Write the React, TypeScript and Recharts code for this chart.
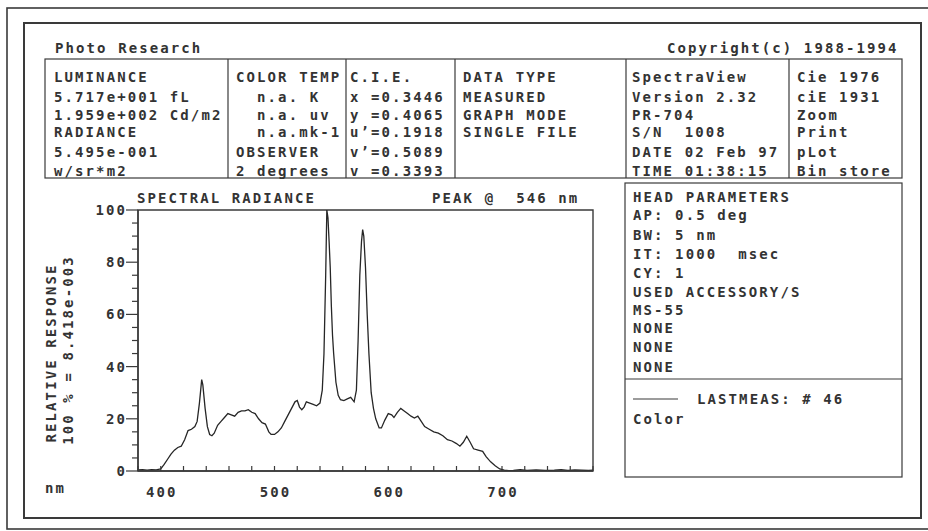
import React from 'react';
import { LineChart, Line, XAxis, YAxis, ReferenceArea } from 'recharts';

// ---- data ----
const wavelengths = [
  380, 384, 388, 392, 396, 400, 403, 406, 409, 412, 415, 418, 421, 424, 427, 430, 432, 434, 436, 437,
  439, 441, 443, 445, 447, 450, 453, 456, 459, 462, 465, 468, 471, 474, 477, 480, 483, 486, 489, 492,
  495, 497, 500, 503, 506, 509, 512, 515, 518, 520, 522, 524, 526, 528, 531, 534, 537, 540, 542, 543.5,
  545, 546, 547, 548, 549, 550, 551, 552, 554, 556, 558, 561, 564, 567, 570, 572, 573.5, 575, 576.5, 577.5,
  578.5, 580, 581.5, 583, 585, 587, 589, 592, 594, 597, 600, 603, 605, 608, 611, 614, 617, 620, 623, 626,
  629, 632, 636, 640, 644, 648, 652, 656, 660, 663, 666, 669, 672, 675, 679, 683, 686, 690, 694, 698,
  702, 706, 710, 716, 722, 730, 738, 746, 752, 758, 764, 770, 776, 780,
];
const response = [
  0.4, 0.5, 0.3, 0.5, 0.4, 0.8, 2.5, 4.5, 6.5, 8, 9, 9.5, 12, 15.5, 16, 17, 19, 26, 35, 33,
  24, 17, 14, 13.5, 14.5, 17.5, 19, 20.5, 22, 21.5, 21, 22.5, 23, 23, 23.5, 22.5, 22, 20, 18.5, 18,
  15, 14, 14, 15, 16.5, 19, 21.5, 24, 26.5, 27, 24.5, 23.5, 24.5, 26.5, 26, 25.5, 25, 26, 31, 45,
  75, 100, 97, 88, 78, 63, 52, 45, 34, 29, 27.3, 27, 27.6, 28.2, 26.5, 31, 50, 75, 88, 92.5,
  90, 78, 60, 45, 30, 24, 20, 16.5, 16.5, 19.5, 22, 21.5, 20.5, 22.5, 24, 23, 22, 21, 20.3, 21,
  19, 17, 16, 15, 14.5, 13.5, 12, 11.5, 10.5, 9.5, 11, 13.3, 11, 8.5, 8, 7.5, 5.5, 3.5, 2, 0.8,
  0.3, 0.1, 0.2, 0.5, 0.2, 0.4, 0.2, 0.3, 0.5, 0.2, 0.4, 0.3, 0.2, 0.3,
];
const xDomain = [380, 780];
const yDomain = [0, 100];
const xTicks = [380, 400, 420, 440, 460, 480, 500, 520, 540, 560, 580, 600, 620, 640, 660, 680, 700, 720, 740, 760, 780];
const xLabels = [400, 500, 600, 700];
const yTicks = [0, 5, 10, 15, 20, 25, 30, 35, 40, 45, 50, 55, 60, 65, 70, 75, 80, 85, 90, 95, 100];
const yLabels = [0, 20, 40, 60, 80, 100];

const headerLeft = 'Photo Research';
const headerRight = 'Copyright(c) 1988-1994';
const colLuminance = ['LUMINANCE', '5.717e+001 fL', '1.959e+002 Cd/m2', 'RADIANCE', '5.495e-001', 'w/sr*m2'];
const colColorTemp = ['COLOR TEMP', '  n.a. K', '  n.a. uv', '  n.a.mk-1', 'OBSERVER', '2 degrees'];
const colCie = ['C.I.E.', 'x =0.3446', 'y =0.4065', 'u’=0.1918', 'v’=0.5089', 'v =0.3393'];
const colDataType = ['DATA TYPE', 'MEASURED', 'GRAPH MODE', 'SINGLE FILE'];
const colSpectra = ['SpectraView', 'Version 2.32', 'PR-704', 'S/N  1008', 'DATE 02 Feb 97', 'TIME 01:38:15'];
const colMenu = ['Cie 1976', 'ciE 1931', 'Zoom', 'Print', 'pLot', 'Bin store'];
const chartTitle = 'SPECTRAL RADIANCE';
const peakText = 'PEAK @  546 nm';
const yTitle1 = 'RELATIVE RESPONSE';
const yTitle2 = '100 % = 8.418e-003';
const xUnit = 'nm';
const headParams = ['HEAD PARAMETERS', 'AP: 0.5 deg', 'BW: 5 nm', 'IT: 1000  msec', 'CY: 1', 'USED ACCESSORY/S', 'MS-55', 'NONE', 'NONE', 'NONE'];
const legendText = 'LASTMEAS: # 46';
const legendSub = 'Color';

const data = wavelengths.map((nm, i) => ({ nm, value: response[i] }));

// ---- styles ----
const FONT = '"DejaVu Sans Mono", "Liberation Mono", monospace';
const FS = 14;
const LS = 2.1;
const INK = '#333';
const LINE = '#3a3a3a';

const T = ({ x, y, children, anchor = 'start', transform }: any) => (
  <text
    x={x}
    y={y}
    dy={5}
    textAnchor={anchor}
    transform={transform}
    fontFamily={FONT}
    fontSize={FS}
    fontWeight="bold"
    letterSpacing={LS}
    fill={INK}
    style={{ whiteSpace: 'pre' }}
  >
    {children}
  </text>
);

const rowsY = [77, 97, 115, 132, 152, 171];
const headRowsY = [197, 215, 235, 254, 273, 292, 310, 328, 347, 367];

const YTick = (props: any) => {
  const { x, y, payload } = props;
  const v = payload.value;
  const major = yLabels.includes(v);
  return (
    <g>
      <line x1={x - (major ? 12 : 6)} x2={x} y1={y} y2={y} stroke={LINE} strokeWidth={1.2} />
      {major && <T x={x - 13 + LS} y={y} anchor="end">{String(v)}</T>}
    </g>
  );
};

const XTick = (props: any) => {
  const { x, y, payload } = props;
  const v = payload.value;
  const major = xLabels.includes(v);
  return (
    <g>
      <line x1={x} x2={x} y1={y - 5} y2={y} stroke={LINE} strokeWidth={1.2} />
      {major && <T x={x + LS / 2} y={y + 21} anchor="middle">{String(v)}</T>}
    </g>
  );
};

const Decorations = () => (
  <svg width={928} height={531} style={{ position: 'absolute', left: 0, top: 0 }}>
    <rect x={0} y={0} width={928} height={531} fill="#fff" />
    {/* frames */}
    <rect x={7} y={8} width={930} height={521} fill="none" stroke={LINE} strokeWidth={1.6} />
    <rect x={24} y={23} width={897} height={495} fill="none" stroke={LINE} strokeWidth={2} />
    {/* header */}
    <T x={55} y={48}>{headerLeft}</T>
    <T x={667} y={48}>{headerRight}</T>
    {/* table */}
    <rect x={45} y={59} width={857} height={119} fill="none" stroke={LINE} strokeWidth={1.2} />
    {[228, 346, 455, 626, 789].map((cx) => (
      <line key={cx} x1={cx} x2={cx} y1={59} y2={178} stroke={LINE} strokeWidth={1.2} />
    ))}
    {colLuminance.map((s, i) => <T key={'a' + i} x={54} y={rowsY[i]}>{s}</T>)}
    {colColorTemp.map((s, i) => <T key={'b' + i} x={236} y={rowsY[i]}>{s}</T>)}
    {colCie.map((s, i) => <T key={'c' + i} x={350} y={rowsY[i]}>{s}</T>)}
    {colDataType.map((s, i) => <T key={'d' + i} x={463} y={rowsY[i]}>{s}</T>)}
    {colSpectra.map((s, i) => <T key={'e' + i} x={632} y={rowsY[i]}>{s}</T>)}
    {colMenu.map((s, i) => <T key={'f' + i} x={797} y={rowsY[i]}>{s}</T>)}
    {/* chart texts */}
    <T x={137} y={198}>{chartTitle}</T>
    <T x={432} y={198}>{peakText}</T>
    <T x={51} y={353} anchor="middle" transform="rotate(-90 51 353)">{yTitle1}</T>
    <T x={68} y={350} anchor="middle" transform="rotate(-90 68 350)">{yTitle2}</T>
    <T x={45} y={488}>{xUnit}</T>
    {/* right panel */}
    <rect x={625} y={183} width={277} height={294} fill="none" stroke={LINE} strokeWidth={1.2} />
    <line x1={625} x2={902} y1={379} y2={379} stroke={LINE} strokeWidth={1.2} />
    {headParams.map((s, i) => <T key={'h' + i} x={633} y={headRowsY[i]}>{s}</T>)}
    <line x1={633} x2={678} y1={399} y2={399} stroke={LINE} strokeWidth={1.2} />
    <T x={697} y={399}>{legendText}</T>
    <T x={633} y={419}>{legendSub}</T>
  </svg>
);

export default function App() {
  return (
    <div style={{ position: 'absolute', left: 0, top: 0, width: 928, height: 531, background: '#fff' }}>
      <Decorations />
      <div style={{ position: 'absolute', left: 0, top: 0 }}>
        <LineChart
          width={928}
          height={531}
          data={data}
          margin={{ top: 210, right: 335, bottom: 30, left: 98 }}
        >
          <XAxis
            dataKey="nm"
            type="number"
            domain={xDomain}
            ticks={xTicks}
            interval={0}
            height={30}
            tickSize={0}
            tickMargin={0}
            tickLine={false}
            tick={<XTick />}
            axisLine={{ stroke: LINE, strokeWidth: 1.4 }}
            allowDataOverflow
          />
          <YAxis
            type="number"
            domain={yDomain}
            ticks={yTicks}
            interval={0}
            width={40}
            tickSize={0}
            tickMargin={0}
            tickLine={false}
            tick={<YTick />}
            axisLine={{ stroke: LINE, strokeWidth: 1.4 }}
            allowDataOverflow
          />
          <ReferenceArea
            x1={xDomain[0]}
            x2={xDomain[1]}
            y1={yDomain[0]}
            y2={yDomain[1]}
            fill="none"
            fillOpacity={0}
            stroke={LINE}
            strokeWidth={1.4}
            ifOverflow="visible"
          />
          <Line
            type="linear"
            dataKey="value"
            stroke="#262626"
            strokeWidth={1.3}
            dot={false}
            isAnimationActive={false}
          />
        </LineChart>
      </div>
    </div>
  );
}
